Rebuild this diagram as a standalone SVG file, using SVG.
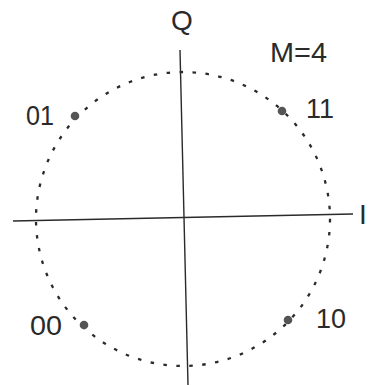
<svg xmlns="http://www.w3.org/2000/svg" width="368" height="385" viewBox="0 0 368 385">
<style>
.lbl{font-family:"Liberation Sans",Arial,sans-serif;font-size:28px;fill:#2a2a2a}
.axis{stroke:#2a2a2a;stroke-width:1.4;fill:none}
.pt{fill:#555}
</style>
<rect width="368" height="385" fill="#fff"/>
<g id="connectors">
<circle id="circle" cx="183" cy="219" r="147" fill="none" stroke="#2a2a2a" stroke-width="2.3" stroke-dasharray="3.5 9.5"/>
<line class="axis" x1="13" y1="221" x2="353" y2="214"/>
<line class="axis" x1="180" y1="50" x2="188" y2="385"/>
</g>
<g id="label-Q"><text class="lbl" x="182" y="30" text-anchor="middle" font-size="26">Q</text></g>
<g id="label-I"><text class="lbl" x="359" y="224" font-size="30">I</text></g>
<g id="label-M"><text class="lbl" x="270" y="62" font-size="27" textLength="57" lengthAdjust="spacingAndGlyphs">M=4</text></g>
<g id="node-01"><circle class="pt" cx="75" cy="116" r="4.3"/><text class="lbl" x="26" y="125" textLength="28" lengthAdjust="spacingAndGlyphs">01</text></g>
<g id="node-11"><circle class="pt" cx="282" cy="111" r="4.3"/><text class="lbl" x="306" y="118" textLength="28" lengthAdjust="spacingAndGlyphs">11</text></g>
<g id="node-00"><circle class="pt" cx="84" cy="325" r="4.3"/><text class="lbl" x="30" y="335" textLength="32" lengthAdjust="spacingAndGlyphs">00</text></g>
<g id="node-10"><circle class="pt" cx="288" cy="320" r="4.3"/><text class="lbl" x="316" y="328" textLength="30" lengthAdjust="spacingAndGlyphs">10</text></g>
</svg>
